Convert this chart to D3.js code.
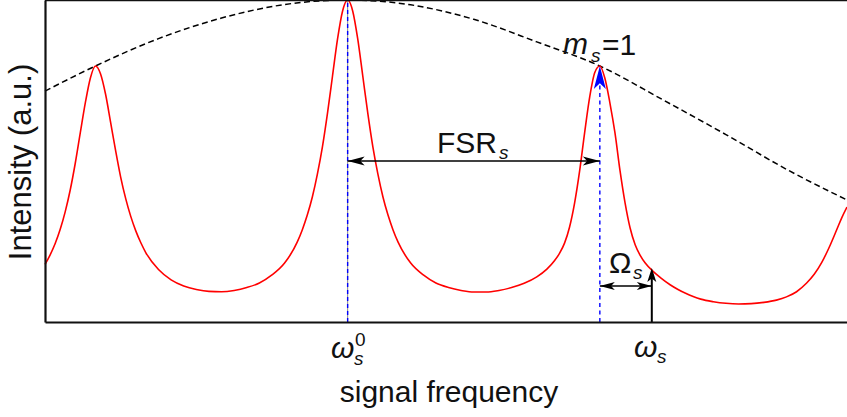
<!DOCTYPE html>
<html>
<head>
<meta charset="utf-8">
<script src="https://cdn.jsdelivr.net/npm/d3@7"></script>
<style>
  body { margin: 0; background: #fff; }
  text { font-family: "Liberation Sans", Arial, sans-serif; fill: #111; }
</style>
</head>
<body>
<div id="chart"></div>
<script>
// frame size
const WIDTH = 847;
const HEIGHT = 417;
const MARGINS = {left: 45, right: 0, top: 0, bottom: 95};

// red transmission curve
// frequency in units of FSR, measured from omega_s^0
const signalFreq = [-1.20, -1.18, -1.16, -1.14, -1.12, -1.10, -1.08, -1.06, -1.04, -1.02,
  -1.00, -0.98, -0.96, -0.94, -0.92, -0.90, -0.88, -0.86, -0.84, -0.82,
  -0.80, -0.75, -0.70, -0.65, -0.60, -0.55, -0.50, -0.45, -0.40, -0.35,
  -0.30, -0.25, -0.20, -0.18, -0.16, -0.14, -0.12, -0.10, -0.08, -0.06,
  -0.04, -0.02, 0.00, 0.02, 0.04, 0.06, 0.08, 0.10, 0.12, 0.14,
  0.16, 0.18, 0.20, 0.25, 0.30, 0.35, 0.40, 0.45, 0.50, 0.55,
  0.60, 0.65, 0.70, 0.75, 0.79, 0.82, 0.84, 0.86, 0.88, 0.90,
  0.92, 0.94, 0.96, 0.98, 1.00, 1.02, 1.04, 1.06, 1.08, 1.10,
  1.12, 1.14, 1.16, 1.18, 1.21, 1.24, 1.28, 1.31, 1.34, 1.37,
  1.40, 1.45, 1.50, 1.55, 1.60, 1.65, 1.70, 1.74, 1.78, 1.82,
  1.85, 1.88, 1.91, 1.94, 1.96, 1.98];
const signalIntensity = [0.179, 0.208, 0.243, 0.287, 0.342, 0.410, 0.493, 0.588, 0.681, 0.758,
  0.795, 0.771, 0.708, 0.621, 0.532, 0.450, 0.383, 0.328, 0.283, 0.246,
  0.215, 0.163, 0.131, 0.112, 0.101, 0.095, 0.094, 0.098, 0.107, 0.121,
  0.146, 0.183, 0.248, 0.286, 0.332, 0.388, 0.459, 0.544, 0.648, 0.764,
  0.879, 0.966, 1.000, 0.966, 0.879, 0.764, 0.648, 0.544, 0.459, 0.388,
  0.332, 0.286, 0.248, 0.183, 0.146, 0.121, 0.107, 0.098, 0.093, 0.093,
  0.098, 0.107, 0.120, 0.140, 0.164, 0.190, 0.213, 0.245, 0.295, 0.370,
  0.470, 0.590, 0.700, 0.775, 0.795, 0.757, 0.680, 0.587, 0.470, 0.370,
  0.292, 0.240, 0.207, 0.183, 0.158, 0.138, 0.115, 0.101, 0.089, 0.079,
  0.071, 0.063, 0.058, 0.056, 0.057, 0.061, 0.068, 0.078, 0.094, 0.121,
  0.148, 0.185, 0.233, 0.288, 0.325, 0.357];

// dashed envelope
const envFreq = [-1.2, -1.0, -0.75, -0.5, -0.25, 0, 0.25, 0.5, 0.75, 1.0, 1.25, 1.5, 1.75, 1.98];
const envIntensity = [0.717, 0.795, 0.880, 0.944, 0.986, 1.0, 0.985, 0.940, 0.870, 0.795, 0.690, 0.582, 0.470, 0.379];

// markers
const omega0 = 0;        // omega_s^0
const modeFreq = 1;      // m_s = 1
const omegaS = 1.206;    // omega_s
const modePeak = 0.795;
const fsrLevel = 0.5;
const detuneLevel = 0.112;
const omegaSTop = 0.168;

const svg = d3.select("#chart")
  .append("svg")
  .attr("width", WIDTH)
  .attr("height", HEIGHT);

const xScale = d3.scaleLinear()
  .domain([-1.2, 1.98])
  .range([MARGINS.left, WIDTH - MARGINS.right]);

const yScale = d3.scaleLinear()
  .domain([0, 1])
  .range([HEIGHT - MARGINS.bottom, MARGINS.top]);

const line = d3.line()
  .x(d => xScale(d.x))
  .y(d => yScale(d.y))
  .curve(d3.curveMonotoneX);

// envelope (dashed)
const env = envFreq.map((f, i) => ({x: f, y: envIntensity[i]}));
svg.append("path")
  .datum(env)
  .attr("fill", "none")
  .attr("stroke", "#000")
  .attr("stroke-width", 1.5)
  .attr("stroke-dasharray", "6,3.5")
  .attr("d", line);

// signal curve
const sig = signalFreq.map((f, i) => ({x: f, y: signalIntensity[i]}));
svg.append("path")
  .datum(sig)
  .attr("fill", "none")
  .attr("stroke", "#ff0000")
  .attr("stroke-width", 1.6)
  .attr("d", line);

// vertical marker at omega_s^0
svg.append("line")
  .attr("x1", xScale(omega0)).attr("x2", xScale(omega0))
  .attr("y1", yScale(0)).attr("y2", yScale(1))
  .attr("stroke", "#888").attr("stroke-width", 1);
svg.append("line")
  .attr("x1", xScale(omega0)).attr("x2", xScale(omega0))
  .attr("y1", yScale(0)).attr("y2", yScale(1))
  .attr("stroke", "#0000ff").attr("stroke-width", 1.4)
  .attr("stroke-dasharray", "4,3");

// arrow head helper: tip point, direction angle, length, half width
function head(x, y, ang, len, hw) {
  const c = Math.cos(ang), s = Math.sin(ang);
  const bx = x - len * c, by = y - len * s;
  const ix = x - len * 0.75 * c, iy = y - len * 0.75 * s;
  return "M" + x + "," + y +
    "L" + (bx - hw * s) + "," + (by + hw * c) +
    "L" + ix + "," + iy +
    "L" + (bx + hw * s) + "," + (by - hw * c) + "Z";
}

// blue dashed line + arrow at the m_s = 1 mode
svg.append("line")
  .attr("x1", xScale(modeFreq)).attr("x2", xScale(modeFreq))
  .attr("y1", yScale(0)).attr("y2", yScale(modePeak) + 18)
  .attr("stroke", "#0000ff").attr("stroke-width", 1.4)
  .attr("stroke-dasharray", "4,3.5");
svg.append("path")
  .attr("d", head(xScale(modeFreq), yScale(modePeak), Math.PI / 2 * 3, 23, 6))
  .attr("fill", "#0000ff");

// FSR arrow
svg.append("line")
  .attr("x1", xScale(omega0)).attr("x2", xScale(modeFreq))
  .attr("y1", yScale(fsrLevel)).attr("y2", yScale(fsrLevel))
  .attr("stroke", "#000").attr("stroke-width", 1.5);
svg.append("path").attr("d", head(xScale(omega0), yScale(fsrLevel), Math.PI, 17, 4.5)).attr("fill", "#000");
svg.append("path").attr("d", head(xScale(modeFreq), yScale(fsrLevel), 0, 17, 4.5)).attr("fill", "#000");

// Omega_s arrow
svg.append("line")
  .attr("x1", xScale(modeFreq)).attr("x2", xScale(omegaS))
  .attr("y1", yScale(detuneLevel)).attr("y2", yScale(detuneLevel))
  .attr("stroke", "#000").attr("stroke-width", 1.5);
svg.append("path").attr("d", head(xScale(modeFreq), yScale(detuneLevel), Math.PI, 15, 4)).attr("fill", "#000");
svg.append("path").attr("d", head(xScale(omegaS), yScale(detuneLevel), 0, 15, 4)).attr("fill", "#000");

// omega_s arrow up from the axis
svg.append("line")
  .attr("x1", xScale(omegaS)).attr("x2", xScale(omegaS))
  .attr("y1", yScale(0)).attr("y2", yScale(omegaSTop) + 6)
  .attr("stroke", "#000").attr("stroke-width", 2);
svg.append("path").attr("d", head(xScale(omegaS), yScale(omegaSTop), -Math.PI / 2, 14, 4.5)).attr("fill", "#000");

// axes, no ticks
svg.append("g")
  .attr("transform", "translate(0," + yScale(0) + ")")
  .call(d3.axisBottom(xScale).tickValues([]).tickSizeOuter(0))
  .select(".domain").attr("stroke", "#111").attr("stroke-width", 2.2);
svg.append("g")
  .attr("transform", "translate(" + MARGINS.left + ",0)")
  .call(d3.axisLeft(yScale).tickValues([]).tickSizeOuter(0))
  .select(".domain").attr("stroke", "#111").attr("stroke-width", 2.2);
svg.append("line")
  .attr("x1", MARGINS.left).attr("x2", WIDTH)
  .attr("y1", 0.5).attr("y2", 0.5)
  .attr("stroke", "#111").attr("stroke-width", 1.5);

// labels
svg.append("text")
  .attr("transform", "translate(31,162) rotate(-90)")
  .attr("text-anchor", "middle")
  .attr("font-size", 31)
  .text("Intensity (a.u.)");

svg.append("text")
  .attr("x", 449).attr("y", 402)
  .attr("text-anchor", "middle")
  .attr("font-size", 30)
  .text("signal frequency");

// omega_s^0
const w0 = svg.append("text").attr("x", 331).attr("y", 358).attr("font-size", 30);
w0.append("tspan").attr("font-style", "italic").text("ω");
w0.append("tspan").attr("x", 354).attr("y", 365).attr("font-size", 19).attr("font-style", "italic").text("s");
w0.append("tspan").attr("x", 355).attr("y", 346).attr("font-size", 19).text("0");

// omega_s
const ws = svg.append("text").attr("x", 634).attr("y", 357).attr("font-size", 30);
ws.append("tspan").attr("font-style", "italic").text("ω");
ws.append("tspan").attr("x", 657).attr("y", 363).attr("font-size", 19).attr("font-style", "italic").text("s");

// Omega_s
const os = svg.append("text").attr("x", 609).attr("y", 273).attr("font-size", 30);
os.append("tspan").text("Ω");
os.append("tspan").attr("x", 633).attr("y", 279).attr("font-size", 19).attr("font-style", "italic").text("s");

// FSR_s
const fsr = svg.append("text").attr("x", 437).attr("y", 153).attr("font-size", 30);
fsr.append("tspan").text("FSR");
fsr.append("tspan").attr("x", 499).attr("y", 159).attr("font-size", 19).attr("font-style", "italic").text("s");

// m_s = 1
const ms = svg.append("text").attr("x", 563).attr("y", 54).attr("font-size", 30);
ms.append("tspan").attr("font-style", "italic").text("m");
ms.append("tspan").attr("x", 591).attr("y", 62).attr("font-size", 19).attr("font-style", "italic").text("s");
ms.append("tspan").attr("x", 602).attr("y", 55).text("=1");
</script>
</body>
</html>
